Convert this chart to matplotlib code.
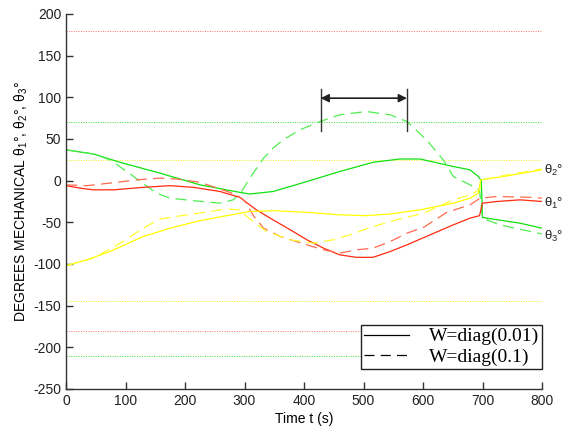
import matplotlib
matplotlib.use("Agg")
import matplotlib.pyplot as plt
from matplotlib.lines import Line2D

plt.rcParams["axes.unicode_minus"] = False
plt.rcParams["mathtext.fontset"] = "custom"
plt.rcParams["mathtext.rm"] = "Liberation Sans"
plt.rcParams["mathtext.it"] = "Liberation Sans:italic"

# ---- data ----
x_th3_a = [0, 46, 91, 158, 225, 292, 309, 348, 405, 460, 516, 561, 595, 651, 679, 693, 698, 700, 707, 763, 800]
y_th3_a = [37, 32, 22, 9, -5, -14, -16, -13, -1, 11, 22, 26, 26, 17, 13, 5, 0, -44, -45, -51, -57]

x_th3_b = [0, 46, 74, 102, 152, 175, 214, 259, 281, 295, 309, 332, 348, 365, 393, 427, 460, 505, 545, 573, 606, 634, 651, 679, 695, 700, 729, 800]
y_th3_b = [37, 32, 25, 11, -15, -21, -24, -27, -23, -13, 3, 27, 39, 49, 61, 71, 79, 83, 79, 71, 49, 25, 5, -5, -11, -45, -53, -64]

x_th1_a = [0, 24, 46, 80, 130, 175, 214, 259, 292, 320, 348, 377, 405, 433, 460, 488, 516, 545, 573, 612, 651, 679, 695, 700, 724, 763, 800]
y_th1_a = [-6, -9, -11, -11, -8, -6, -8, -13, -20, -35, -47, -59, -71, -81, -89, -92, -92, -85, -77, -65, -53, -45, -42, -27, -25, -23, -25]

x_th1_b = [0, 35, 85, 119, 158, 186, 225, 259, 287, 300, 315, 332, 360, 405, 433, 460, 488, 516, 545, 573, 601, 640, 679, 696, 724, 780, 800]
y_th1_b = [-5, -6, -2, 1, 3, 2, -2, -10, -17, -24, -42, -57, -67, -77, -83, -87, -83, -81, -73, -63, -56, -38, -29, -21, -19, -20, -21]

x_th2_a = [0, 35, 74, 130, 175, 225, 270, 309, 348, 405, 460, 505, 545, 595, 651, 679, 693, 697, 735, 800]
y_th2_a = [-102, -95, -85, -67, -57, -48, -42, -37, -36, -38, -41, -42, -40, -35, -27, -21, -15, 1, 5, 13]

x_th2_b = [0, 46, 91, 130, 158, 203, 242, 270, 292, 304, 337, 377, 416, 449, 477, 516, 556, 601, 651, 679, 695, 700, 735, 800]
y_th2_b = [-102, -93, -75, -57, -46, -41, -37, -34, -35, -43, -61, -71, -75, -71, -65, -55, -47, -39, -23, -17, -11, 1, 6, 14]

limits_red = [180, -180]
limits_green = [70, -210]
limits_yellow = [25, -145]

arrow_x = [428, 573]
arrow_y = 99
arrow_bar = [60, 110]

legend_labels = ["W=diag(0.01)", "W=diag(0.1)"]
curve_labels = ["θ$_2$°", "θ$_1$°", "θ$_3$°"]
curve_label_y = [8, -31, -71]

# ---- figure ----
fig = plt.figure(figsize=(5.63, 4.32), dpi=100)
ax = fig.add_axes([66/563, 1 - 389/432, 476/563, 375/432])

c_red = "#ff2a10"
c_red2 = "#ff6a50"
c_green = "#10e010"
c_green2 = "#50ee50"
c_yel = "#ffff00"
c_yel2 = "#ffff30"

for v in limits_red:
    ax.axhline(v, color="#ff7070", lw=0.7, ls=(0, (1, 1.5)))
for v in limits_green:
    ax.axhline(v, color="#30e030", lw=0.7, ls=(0, (1, 1.5)))
for v in limits_yellow:
    ax.axhline(v, color="#f0f020", lw=0.7, ls=(0, (1, 1.5)))

lw = 0.9
dash = (0, (9, 5))
ax.plot(x_th3_a, y_th3_a, color=c_green, lw=lw)
ax.plot(x_th3_b, y_th3_b, color=c_green2, lw=lw, ls=dash)
ax.plot(x_th1_a, y_th1_a, color=c_red, lw=lw)
ax.plot(x_th1_b, y_th1_b, color=c_red2, lw=lw, ls=dash)
ax.plot(x_th2_a, y_th2_a, color=c_yel, lw=lw)
ax.plot(x_th2_b, y_th2_b, color=c_yel2, lw=lw, ls=dash)

# arrow annotation
for xv in arrow_x:
    ax.plot([xv, xv], arrow_bar, color="#333333", lw=1.0)
ax.annotate("", xy=(arrow_x[0], arrow_y), xytext=(arrow_x[1], arrow_y),
            arrowprops=dict(arrowstyle="<|-|>", color="#222222", lw=1.2,
                            shrinkA=0, shrinkB=0, mutation_scale=12))

ax.set_xlim(0, 800)
ax.set_ylim(-250, 200)
ax.set_xticks(range(0, 801, 100))
ax.set_yticks(range(-250, 201, 50))
ax.spines["top"].set_visible(False)
ax.spines["right"].set_visible(False)
for s in ["left", "bottom"]:
    ax.spines[s].set_color("#333333")
    ax.spines[s].set_linewidth(1.0)
ax.tick_params(direction="in", length=5, width=1, color="#333333",
               labelsize=10, labelcolor="#222222")
for lab in ax.get_xticklabels() + ax.get_yticklabels():
    lab.set_family("Liberation Sans")

ax.set_xlabel("Time t (s)", fontsize=10, family="Liberation Sans", labelpad=3)
ax.set_ylabel("DEGREES MECHANICAL θ$_1$°, θ$_2$°, θ$_3$°",
              fontsize=10, family="Liberation Sans")
ax.yaxis.set_label_coords(-0.076, 0.5)

for lab, yv in zip(curve_labels, curve_label_y):
    ax.text(804, yv, lab, fontsize=9.5, family="Liberation Sans",
            va="baseline", ha="left", clip_on=False, color="#222222")

handles = [Line2D([0], [0], color="black", lw=0.9),
           Line2D([0], [0], color="black", lw=0.9, ls=(0, (8, 5)))]
leg = ax.legend(handles, legend_labels, loc="lower right",
                bbox_to_anchor=(1.0, 20/375),
                prop={"family": "Liberation Serif", "size": 14},
                frameon=True, fancybox=False, framealpha=1, edgecolor="#222222",
                handlelength=2.35, handletextpad=1.0, borderpad=0.15,
                labelspacing=0.15, borderaxespad=0)
leg.get_frame().set_linewidth(1.0)

fig.savefig("out.png", dpi=100)
